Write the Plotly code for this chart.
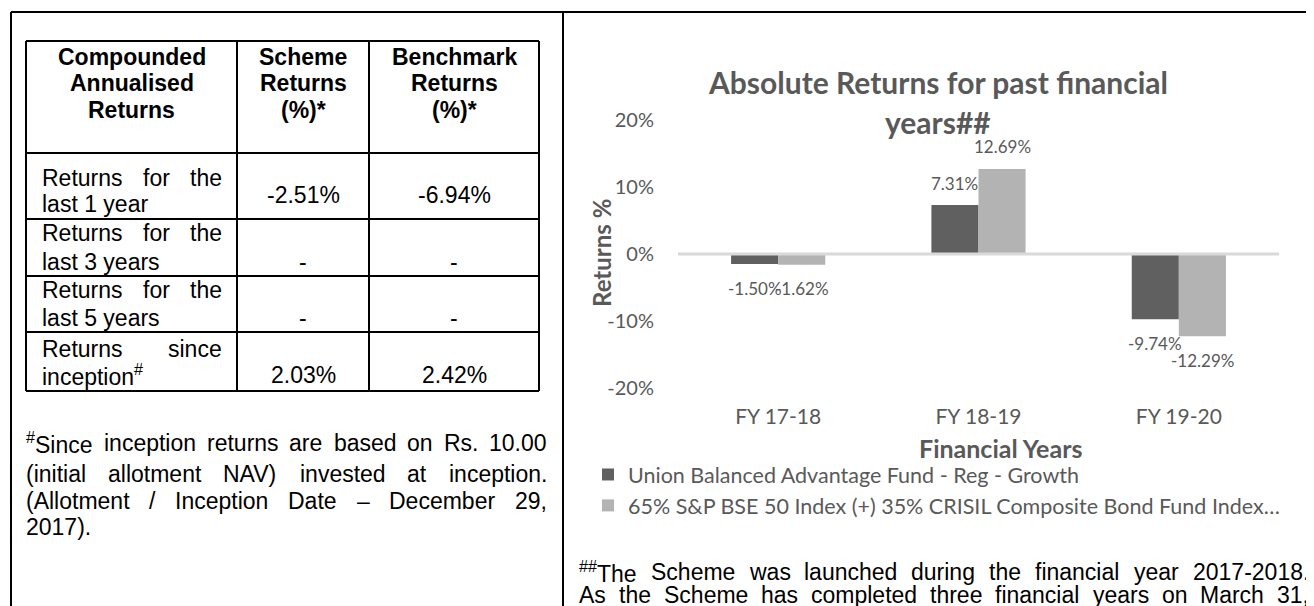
import re
import plotly.graph_objects as go

W, H = 1314, 606

# ---------------- data ----------------
categories = ["FY 17-18", "FY 18-19", "FY 19-20"]
scheme_returns = [-1.50, 7.31, -9.74]
benchmark_returns = [-1.62, 12.69, -12.29]
scheme_name = "Union Balanced Advantage Fund - Reg - Growth"
benchmark_name = "65% S&amp;P BSE 50 Index (+) 35% CRISIL Composite Bond Fund Index…"
y_tick_values = [-20, -10, 0, 10, 20]
y_tick_labels = ["-20%", "-10%", "0%", "10%", "20%"]
chart_title = ["Absolute Returns for past financial", "years##"]
x_title = "Financial Years"
y_title = "Returns %"

table_headers = [["Compounded", "Annualised", "Returns"],
                 ["Scheme", "Returns", "(%)*"],
                 ["Benchmark", "Returns", "(%)*"]]
table_row_labels = [["Returns for the", "last 1 year"],
                    ["Returns for the", "last 3 years"],
                    ["Returns for the", "last 5 years"],
                    ["Returns since", "inception<sup>#</sup>"]]
table_scheme = ["-2.51%", "-", "-", "2.03%"]
table_benchmark = ["-6.94%", "-", "-", "2.42%"]

note_left = ["<sup>#</sup>Since inception returns are based on Rs. 10.00",
             "(initial allotment NAV) invested at inception.",
             "(Allotment / Inception Date – December 29,",
             "2017)."]
note_right = ["<sup>##</sup>The Scheme was launched during the financial year 2017-2018.",
              "As the Scheme has completed three financial years on March 31,"]

# ---------------- helpers ----------------
# the page body has an 8px default margin, so the figure starts 8px in
OFF = 8


def X(px):
    return (px - OFF) / W


def Y(py):
    return 1 - (py - OFF) / H


ARIAL = {' ': 278, '!': 278, '#': 556, '%': 889, '&': 667, '(': 333, ')': 333, '*': 389,
         '+': 584, ',': 278, '-': 333, '.': 278, '/': 278, ':': 278, '–': 556,
         'A': 667, 'B': 667, 'C': 722, 'D': 722, 'E': 667, 'F': 611, 'G': 778, 'H': 722,
         'I': 278, 'J': 500, 'K': 667, 'L': 556, 'M': 833, 'N': 722, 'O': 778, 'P': 667,
         'Q': 778, 'R': 722, 'S': 667, 'T': 611, 'U': 722, 'V': 667, 'W': 944, 'X': 667,
         'Y': 667, 'Z': 611, 'a': 556, 'b': 556, 'c': 500, 'd': 556, 'e': 556, 'f': 278,
         'g': 556, 'h': 556, 'i': 222, 'j': 222, 'k': 500, 'l': 222, 'm': 833, 'n': 556,
         'o': 556, 'p': 556, 'q': 556, 'r': 333, 's': 500, 't': 278, 'u': 556, 'v': 500,
         'w': 722, 'x': 500, 'y': 500, 'z': 500}


def text_width(s, size):
    total = 0.0
    for part in re.split(r'(<sup>.*?</sup>)', s):
        if part.startswith('<sup>'):
            inner = part[5:-6]
            total += 0.7 * sum(ARIAL.get(c, 556) for c in inner)
        else:
            total += sum(ARIAL.get(c, 556) for c in part)
    return total / 1000 * size


annotations = []
TEXT_FONT = "Liberation Sans, Arial, sans-serif"
CHART_FONT = "Lato, Calibri, sans-serif"
GREY = "#595959"


def txt(x, y, s, size=23, anchor="left", family=TEXT_FONT, color="black", angle=0):
    annotations.append(dict(x=X(x), y=Y(y), xref="paper", yref="paper", text=s, showarrow=False,
                            xanchor=anchor, yanchor="middle", textangle=angle,
                            font=dict(family=family, size=size, color=color),
                            borderpad=0, borderwidth=0))


def justify(line, x0, x1, y, size=23):
    words = line.split(" ")
    if len(words) == 1:
        txt(x0, y, line, size)
        return
    widths = [text_width(w, size) for w in words]
    gap = (x1 - x0 - sum(widths)) / (len(words) - 1)
    pos = x0
    for w, wd in zip(words, widths):
        txt(pos, y, w, size)
        pos += wd + gap


# ---------------- figure ----------------
fig = go.Figure()
fig.add_bar(x=categories, y=scheme_returns, name=scheme_name,
            marker=dict(color="#606060", line=dict(width=0)))
fig.add_bar(x=categories, y=benchmark_returns, name=benchmark_name,
            marker=dict(color="#b3b3b3", line=dict(width=0)))

BARGAP = 0.53
offset = (1 - BARGAP) / 4
for series, sign in ((scheme_returns, -1), (benchmark_returns, 1)):
    for i, v in enumerate(series):
        annotations.append(dict(x=i + sign * offset, y=v, xref="x", yref="y",
                                text=f"{v:.2f}%", showarrow=False,
                                yshift=22 if v > 0 else -24,
                                xanchor="center", yanchor="middle",
                                font=dict(family=CHART_FONT, size=17, color=GREY)))

# chart title and axis titles
txt(938, 82, "<b>" + chart_title[0] + "</b>", 30, "center", CHART_FONT, GREY)
txt(938, 122, "<b>" + chart_title[1] + "</b>", 30, "center", CHART_FONT, GREY)
txt(1000, 448, "<b>" + x_title + "</b>", 25, "center", CHART_FONT, GREY)
txt(601, 253, "<b>" + y_title + "</b>", 24, "center", CHART_FONT, GREY, angle=-90)

# ---------------- table ----------------
col_x = [26, 237, 369, 539]
row_y = [41, 153, 219, 276, 332, 391]
header_line_y = [57, 83, 110]
row_line_y = [[178, 204], [233, 262], [290, 318], [349, 375]]
value_y = [195, 262, 318, 375]

shapes = []
for cx in col_x:
    shapes.append(dict(type="line", xref="paper", yref="paper", x0=X(cx), x1=X(cx),
                       y0=Y(row_y[0]), y1=Y(row_y[-1]), line=dict(color="black", width=2)))
for ry in row_y:
    shapes.append(dict(type="line", xref="paper", yref="paper", x0=X(col_x[0]), x1=X(col_x[-1]),
                       y0=Y(ry), y1=Y(ry), line=dict(color="black", width=2)))

for c, lines in enumerate(table_headers):
    cx = (col_x[c] + col_x[c + 1]) / 2
    for ly, s in zip(header_line_y, lines):
        txt(cx, ly, "<b>" + s + "</b>", 23, "center")

for r, lines in enumerate(table_row_labels):
    justify(lines[0], col_x[0] + 16, col_x[1] - 15, row_line_y[r][0])
    txt(col_x[0] + 16, row_line_y[r][1], lines[1])
    txt((col_x[1] + col_x[2]) / 2, value_y[r], table_scheme[r], 23, "center")
    txt((col_x[2] + col_x[3]) / 2, value_y[r], table_benchmark[r], 23, "center")

# ---------------- footnotes ----------------
left_note_y = [443, 474, 501, 527]
for i, line in enumerate(note_left):
    if i < len(note_left) - 1:
        justify(line, 26, 547, left_note_y[i])
    else:
        txt(26, left_note_y[i], line)

right_note_y = [572, 595]
for i, line in enumerate(note_right):
    justify(line, 579, 1309, right_note_y[i])

# ---------------- frame ----------------
for (x0, y0, x1, y1) in [(11, 12, 1330, 12), (11, 12, 11, 620), (563, 12, 563, 620)]:
    shapes.append(dict(type="line", xref="paper", yref="paper", x0=X(x0), x1=X(x1),
                       y0=Y(y0), y1=Y(y1), line=dict(color="black", width=2)))

# zero line of the chart
shapes.append(dict(type="line", xref="x domain", yref="y", x0=0, x1=1, y0=0, y1=0,
                   line=dict(color="#d9d9d9", width=3), layer="above"))

fig.update_layout(
    width=W, height=H, margin=dict(l=0, r=0, t=0, b=0, autoexpand=False),
    paper_bgcolor="white", plot_bgcolor="white",
    barmode="group", bargap=BARGAP, bargroupgap=0,
    xaxis=dict(domain=[X(678), X(1279)], showgrid=False, showline=False, zeroline=False,
               automargin=False,
               ticks="", tickfont=dict(family=CHART_FONT, size=21, color=GREY),
               ticklabelstandoff=14),
    yaxis=dict(domain=[Y(388), Y(120)], range=[-20, 20], tickvals=y_tick_values,
               ticktext=y_tick_labels, showgrid=False, zeroline=False, showline=False,
               automargin=False,
               ticks="", tickfont=dict(family=CHART_FONT, size=20, color=GREY),
               ticklabelstandoff=23),
    legend=dict(x=X(588), y=Y(454), xanchor="left", yanchor="top",
                font=dict(family=CHART_FONT, size=21.5, color=GREY),
                bgcolor="rgba(0,0,0,0)", traceorder="normal"),
    showlegend=True,
    annotations=annotations,
    shapes=shapes,
)

fig.write_html("out.html")
